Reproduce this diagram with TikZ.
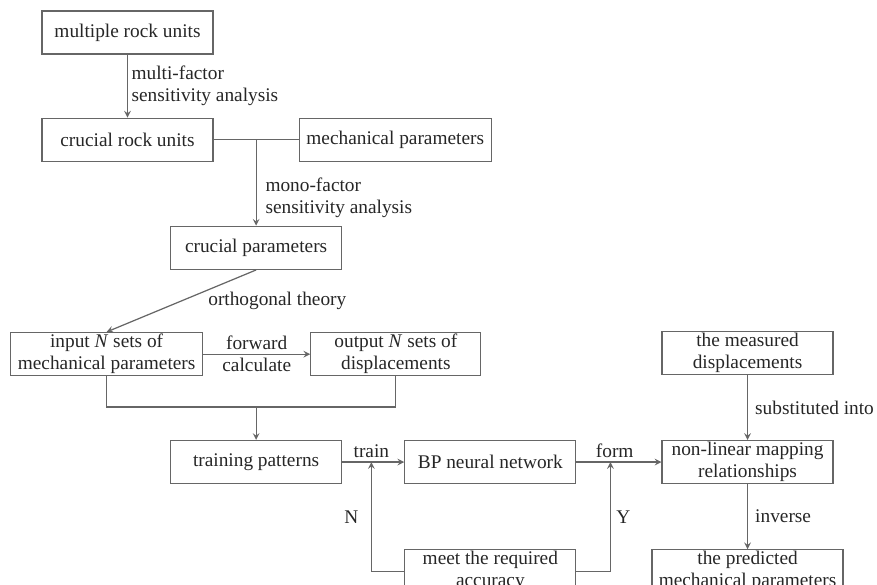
\documentclass[tikz,border=0pt]{standalone}
\usepackage{fontspec}
\setmainfont{Liberation Serif}
\usetikzlibrary{positioning, calc}

\begin{document}
\begin{tikzpicture}[
  node distance=1.26cm and 1.7cm,
  block/.style={rectangle, draw=black!60, line width=0.7pt, align=center, minimum width=3.42cm, minimum height=0.86cm, inner xsep=2pt, inner ysep=1pt, text=black!85, font=\fontsize{11}{12.5}\selectfont},
  wide/.style={minimum width=3.84cm},
  lbl/.style={text=black!85, font=\fontsize{11}{12.5}\selectfont, align=left, inner sep=2pt},
  line/.style={draw=black!60, line width=0.7pt},
  arrow/.style={line, ->, >=stealth}
]
\useasboundingbox (-2.55,0.65) rectangle (14.99,-11.05);
% Sensitivity analysis
\node[block] (mru) at (0,0) {multiple rock units};
\node[block, below=of mru] (cru) {crucial rock units};
\node[block, wide, right=of cru] (mech) {mechanical parameters};
\coordinate (jn) at ($(cru.east)!0.5!(mech.west)$);
\node[block, below=1.72cm of jn] (cpar) {crucial parameters};
% Forward calculation
\node[block, wide, below=1.24cm of cpar, xshift=-2.99cm] (inp) {input \textit{N} sets of\\mechanical parameters};
\node[block, minimum width=3.4cm, right=2.14cm of inp] (out) {output \textit{N} sets of\\displacements};
\node[block, below=3.4cm of cpar] (tpat) {training patterns};
\coordinate (mrg) at ($(tpat.north)+(0,0.66)$);
% Network and inversion
\node[block, right=1.24cm of tpat] (bp) {BP neural network};
\node[block, right=of bp] (nlm) {non-linear mapping\\relationships};
\node[block, above=1.3cm of nlm] (meas) {the measured\\displacements};
\node[block, below=1.3cm of bp] (meet) {meet the required\\accuracy};
\node[block, minimum width=3.82cm, below=1.3cm of nlm] (pred) {the predicted\\mechanical parameters};
\coordinate (tj) at ($(tpat.east)!0.47!(bp.west)$);
\coordinate (fj) at ($(bp.east)!0.4!(nlm.west)$);
% Arrows
\draw[arrow] (mru) -- node[lbl, right] {multi-factor\\sensitivity analysis} (cru);
\draw[line] (cru) -- (mech);
\draw[arrow] (jn) -- node[lbl, pos=0.68, right=3pt] {mono-factor\\sensitivity analysis} (cpar);
\draw[arrow] (cpar.south) -- node[lbl, midway, right=13pt] {orthogonal theory} (inp.north);
\draw[arrow] (inp) -- node[lbl, above] {forward} node[lbl, below] {calculate} (out);
\draw[line] (inp.south) |- (mrg) -| (out.south);
\draw[arrow] (mrg) -- (tpat);
\draw[arrow] (tpat) -- node[lbl, above, pos=0.47] {train} (bp);
\draw[arrow] (bp) -- node[lbl, above, pos=0.45] {form} (nlm);
\draw[arrow] (meet.west) -| node[lbl, pos=0.75, left=5pt] {N} (tj);
\draw[arrow] (meet.east) -| node[lbl, pos=0.75, right=1pt] {Y} (fj);
\draw[arrow] (meas) -- node[lbl, right=2pt] {substituted into} (nlm);
\draw[arrow] (nlm) -- node[lbl, right=2pt] {inverse} (pred);
\end{tikzpicture}
\end{document}
